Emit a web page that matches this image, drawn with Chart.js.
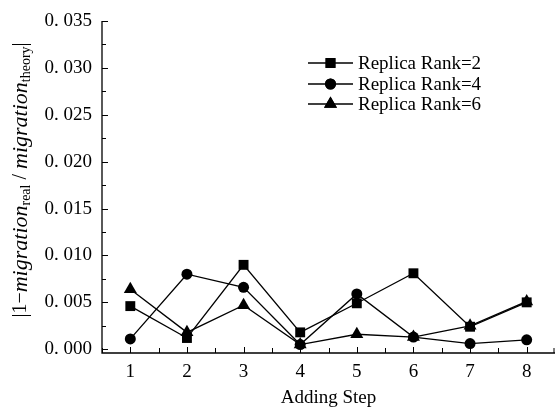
<!DOCTYPE html>
<html>
<head>
<meta charset="utf-8">
<script src="https://cdn.jsdelivr.net/npm/chart.js@4"></script>
<style>
  html, body { margin: 0; padding: 0; background: #fff; }
  #wrap { width: 555px; height: 409px; }
</style>
</head>
<body>
<div id="wrap"><canvas id="migrationChart"></canvas></div>
<script>
// Data
const steps = [1, 2, 3, 4, 5, 6, 7, 8];
const rank2 = [0.0046, 0.0012, 0.0090, 0.0018, 0.0049, 0.0081, 0.0024, 0.0050];
const rank4 = [0.0011, 0.0080, 0.0066, 0.0005, 0.0059, 0.0013, 0.0006, 0.0010];
const rank6 = [0.0064, 0.0018, 0.0047, 0.0005, 0.0016, 0.0013, 0.0025, 0.0051];
const yTicks = [0, 0.005, 0.010, 0.015, 0.020, 0.025, 0.030, 0.035];
const seriesNames = ['Replica Rank=2', 'Replica Rank=4', 'Replica Rank=6'];

const serif = "'Liberation Serif', 'DejaVu Serif', serif";

function toPoints(values) {
    return steps.map((s, i) => ({ x: s, y: values[i] }));
}

function makeSet(label, values, style, radius) {
    return {
        label: label,
        data: toPoints(values),
        borderColor: '#000',
        backgroundColor: '#000',
        borderWidth: 1.3,
        pointStyle: style,
        pointRadius: radius,
        pointBorderWidth: 0,
        tension: 0,
        clip: false
    };
}

// Inward ticks, rotated y title with subscripts, and the legend
const extras = {
    id: 'extras',
    afterDraw(chart) {
        const ctx = chart.ctx;
        const xs = chart.scales.x;
        const ys = chart.scales.y;
        const area = chart.chartArea;
        ctx.save();
        ctx.strokeStyle = '#000';
        ctx.lineWidth = 1.3;

        // axis lines
        ctx.beginPath();
        ctx.moveTo(area.left, ys.getPixelForValue(0.035));
        ctx.lineTo(area.left, area.bottom);
        ctx.lineTo(area.right, area.bottom);
        ctx.stroke();

        // x ticks (major and half steps)
        ctx.lineWidth = 1;
        ctx.beginPath();
        for (let v = 0.5; v <= 8.5; v += 0.5) {
            const px = Math.min(Math.round(xs.getPixelForValue(v)) + 0.5, area.right - 1);
            const len = Number.isInteger(v) ? 6 : 5;
            ctx.moveTo(px, area.bottom);
            ctx.lineTo(px, area.bottom - len);
        }
        // y ticks
        for (let v = 0; v <= 0.03501; v += 0.0025) {
            const py = Math.round(ys.getPixelForValue(v)) + 0.5;
            const major = Math.abs(v / 0.005 - Math.round(v / 0.005)) < 1e-6;
            ctx.moveTo(area.left, py);
            ctx.lineTo(area.left + (major ? 6 : 4), py);
        }
        ctx.stroke();

        // y title
        ctx.translate(21, 180);
        ctx.rotate(-Math.PI / 2);
        ctx.fillStyle = '#000';
        ctx.textBaseline = 'middle';
        const parts = [
            { t: '|1\u2212', f: '20px ' + serif, dy: 0 },
            { t: 'migration', f: 'italic 22px ' + serif, dy: 0 },
            { t: 'real', f: '14px ' + serif, dy: 5 },
            { t: ' / ', f: '20px ' + serif, dy: 0 },
            { t: 'migration', f: 'italic 22px ' + serif, dy: 0 },
            { t: 'theory', f: '14px ' + serif, dy: 5 },
            { t: '|', f: '20px ' + serif, dy: 0 }
        ];
        let total = 0;
        parts.forEach(p => { ctx.font = p.f; total += ctx.measureText(p.t).width; });
        let cx = -total / 2;
        parts.forEach(p => {
            ctx.font = p.f;
            ctx.fillText(p.t, cx, p.dy);
            cx += ctx.measureText(p.t).width;
        });
        ctx.restore();

        // legend
        ctx.save();
        const rows = [63, 84, 104];
        const styles = ['rect', 'circle', 'triangle'];
        const radii = [7, 5.5, 7.5];
        chart.data.datasets.forEach((ds, i) => {
            const y = rows[i];
            ctx.strokeStyle = '#000';
            ctx.lineWidth = 1.3;
            ctx.beginPath();
            ctx.moveTo(308, y);
            ctx.lineTo(353, y);
            ctx.stroke();
            ctx.fillStyle = '#000';
            Chart.helpers.drawPoint(ctx, { pointStyle: styles[i], radius: radii[i], borderWidth: 0 }, 330.5, y);
            ctx.fill();
            ctx.font = '19px ' + serif;
            ctx.textBaseline = 'middle';
            ctx.textAlign = 'left';
            ctx.fillText(seriesNames[i], 358, y + 1);
        });
        ctx.restore();
    }
};

document.addEventListener('DOMContentLoaded', function() {
    const ctx = document.getElementById('migrationChart').getContext('2d');
    new Chart(ctx, {
        type: 'line',
        data: {
            datasets: [
                makeSet(seriesNames[0], rank2, 'rect', 7),
                makeSet(seriesNames[1], rank4, 'circle', 5.5),
                makeSet(seriesNames[2], rank6, 'triangle', 7.5)
            ]
        },
        options: {
            responsive: true,
            maintainAspectRatio: false,
            animation: false,
            layout: { autoPadding: false, padding: { top: 21, right: 0, left: 0, bottom: 0 } },
            scales: {
                x: {
                    type: 'linear',
                    min: 0.5,
                    max: 8.5,
                    afterBuildTicks: s => { s.ticks = steps.map(v => ({ value: v })); },
                    afterFit: s => { s.height = 56; s.paddingLeft = 0; s.paddingRight = 0; },
                    grid: { display: false, drawTicks: false },
                    border: { display: false },
                    ticks: {
                        color: '#000',
                        padding: 8,
                        font: { family: serif, size: 19 },
                        callback: v => String(v)
                    },
                    title: {
                        display: true,
                        text: 'Adding Step',
                        color: '#000',
                        font: { family: serif, size: 19 },
                        padding: { top: 5, bottom: 0 }
                    }
                },
                y: {
                    min: -0.0004,
                    max: 0.035,
                    afterBuildTicks: s => { s.ticks = yTicks.map(v => ({ value: v })); },
                    afterFit: s => { s.width = 102; s.paddingTop = 0; s.paddingBottom = 0; },
                    grid: { display: false, drawTicks: false },
                    border: { display: false },
                    ticks: {
                        color: '#000',
                        padding: 10,
                        font: { family: serif, size: 19 },
                        callback: v => v.toFixed(3).replace('.', '. ')
                    }
                }
            },
            plugins: {
                legend: { display: false },
                tooltip: { enabled: false }
            }
        },
        plugins: [extras]
    });
});
</script>
</body>
</html>
